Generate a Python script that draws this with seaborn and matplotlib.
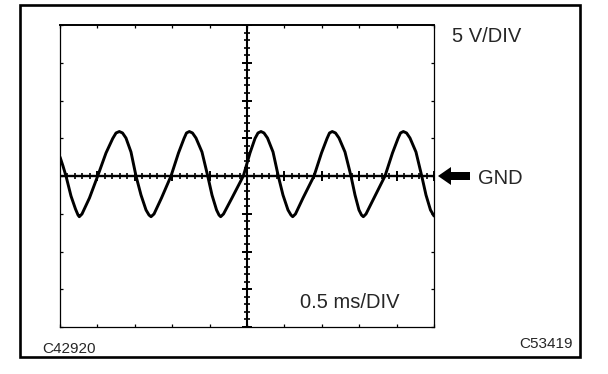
import numpy as np
import pandas as pd
import matplotlib.pyplot as plt
import matplotlib.patches as mpatches
import seaborn as sns

# waveform (time in ms, 0.5 ms/DIV; voltage in V, 5 V/DIV)
time_ms = [0.000, 0.040, 0.080, 0.147, 0.207, 0.241, 0.258,
           0.294, 0.394, 0.504, 0.615, 0.705, 0.749, 0.793, 0.836, 0.882, 0.949, 1.016, 1.083, 1.150, 1.190, 1.217,
           1.257, 1.357, 1.484, 1.584, 1.658, 1.691, 1.729, 1.771, 1.818, 1.898, 1.975, 2.032, 2.093, 2.126, 2.148,
           2.186, 2.299, 2.451, 2.540, 2.607, 2.647, 2.687, 2.727, 2.774, 2.848, 2.918, 2.981, 3.048, 3.088, 3.111,
           3.148, 3.249, 3.396, 3.496, 3.570, 3.603, 3.640, 3.683, 3.730, 3.810, 3.890, 3.944, 3.997, 4.031, 4.055,
           4.091, 4.198, 4.345, 4.445, 4.519, 4.552, 4.590, 4.633, 4.679, 4.759, 4.836, 4.893, 4.953, 5.000]
volts = [2.52, 1.32, 0.00, -2.65, -4.37, -5.17, -5.39,
         -5.03, -2.91, 0.00, 3.05, 4.97, 5.70, 5.89, 5.70, 5.03, 3.18, 0.00, -2.52, -4.50, -5.17, -5.39,
         -5.03, -2.91, 0.00, 3.05, 4.97, 5.70, 5.89, 5.70, 5.03, 3.18, 0.00, -2.52, -4.50, -5.17, -5.39,
         -5.03, -2.91, 0.00, 3.05, 4.97, 5.70, 5.89, 5.70, 5.03, 3.18, 0.00, -2.52, -4.50, -5.17, -5.39,
         -5.03, -2.91, 0.00, 3.05, 4.97, 5.70, 5.89, 5.70, 5.03, 3.18, 0.00, -2.52, -4.50, -5.17, -5.39,
         -5.03, -2.91, 0.00, 3.05, 4.97, 5.70, 5.89, 5.70, 5.03, 3.18, 0.00, -2.52, -4.50, -5.30]

# screen settings
ms_per_div = 0.5
v_per_div = 5
n_xdiv = 10
n_ydiv = 8

volt_label = "5 V/DIV"
time_label = "0.5 ms/DIV"
gnd_label = "GND"
left_code = "C42920"
right_code = "C53419"

df = pd.DataFrame({"t": time_ms, "v": volts})

sns.set_style("white")
plt.rcParams['font.family'] = ['Liberation Sans', 'DejaVu Sans']

W, H = 608, 374
fig = plt.figure(figsize=(W / 100, H / 100), dpi=100)

# outer frame
fig.patches.append(mpatches.Rectangle((19.5 / W, (H - 356.5) / H), 560.5 / W, 352 / H,
                                      transform=fig.transFigure, fill=False,
                                      ec='black', lw=1.9))

ax = fig.add_axes([60 / W, 47 / H, 374 / W, 302 / H])
xmax = ms_per_div * n_xdiv
ymax = v_per_div * n_ydiv / 2
ax.set_xlim(0, xmax)
ax.set_ylim(-ymax, ymax)

for name, sp in ax.spines.items():
    sp.set_color('black')
    sp.set_linewidth(1.4 if name == 'top' else 0.9)

ax.set_xticks(np.arange(0, xmax + 1e-9, ms_per_div))
ax.set_yticks(np.arange(-ymax, ymax + 1e-9, v_per_div))
ax.tick_params(direction='in', length=2.5, width=0.9, color='black',
               top=True, right=True, bottom=True, left=True,
               labelbottom=False, labelleft=False)
ax.set_xlabel("")
ax.set_ylabel("")

# center graticule with ticks
xc = xmax / 2
ax.axhline(0, color='black', lw=1.7)
ax.axvline(xc, color='black', lw=1.5)
minor_x = np.arange(0, xmax + 1e-9, ms_per_div / 5)
major_x = np.arange(0, xmax + 1e-9, ms_per_div)
minor_y = np.arange(-ymax, ymax + 1e-9, v_per_div / 5)
major_y = np.arange(-ymax, ymax + 1e-9, v_per_div)
ax.plot(minor_x, np.zeros_like(minor_x), ls='none', marker='|', ms=4.2, mew=1.2, color='black')
ax.plot(major_x, np.zeros_like(major_x), ls='none', marker='|', ms=7, mew=1.4, color='black')
ax.plot(np.full_like(minor_y, xc), minor_y, ls='none', marker='_', ms=4.2, mew=1.2, color='black')
ax.plot(np.full_like(major_y, xc), major_y, ls='none', marker='_', ms=7, mew=1.4, color='black')

sns.lineplot(data=df, x='t', y='v', ax=ax, color='black', lw=2.1, sort=False, legend=False)
ax.set_xlabel("")
ax.set_ylabel("")

# texts
fig.text(452 / W, (H - 42) / H, volt_label, fontsize=14.5, va='baseline', ha='left')
fig.text(478 / W, (H - 184.5) / H, gnd_label, fontsize=14.5, va='baseline', ha='left')
fig.text(300 / W, (H - 308) / H, time_label, fontsize=14.5, va='baseline', ha='left')
fig.text(42 / W, (H - 353) / H, left_code, fontsize=11, va='baseline', ha='left')
fig.text(573 / W, (H - 348) / H, right_code, fontsize=11, va='baseline', ha='right')

# GND arrow
fig.patches.append(mpatches.FancyArrow(4.70, (H - 176) / 100, -0.32, 0, width=0.08,
                                       head_width=0.18, head_length=0.13,
                                       length_includes_head=True,
                                       transform=fig.dpi_scale_trans,
                                       fc='black', ec='black', lw=0))

fig.savefig("out.png", dpi=100)
